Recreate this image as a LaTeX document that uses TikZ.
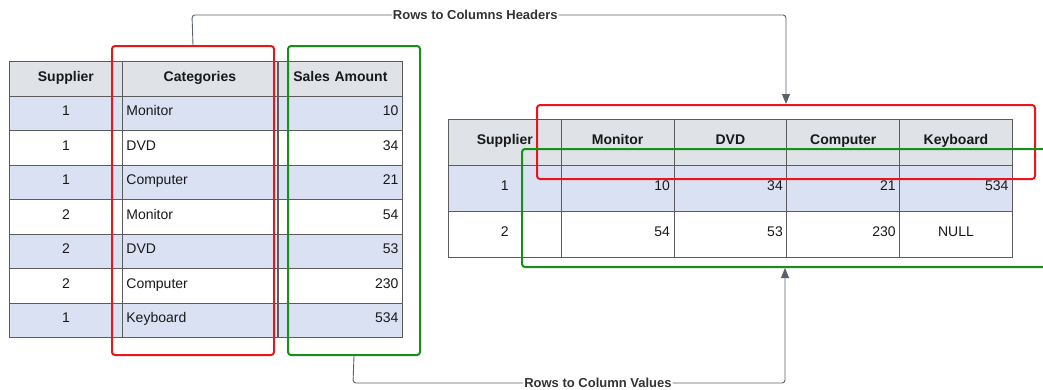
\documentclass[tikz,border=0pt]{standalone}
\usepackage{fontspec}
\setmainfont{Liberation Sans}
\usetikzlibrary{positioning,calc,arrows.meta}

\definecolor{hdrgray}{HTML}{DFE2E7}
\definecolor{rowblue}{HTML}{DAE1F2}
\definecolor{gridgray}{HTML}{5C5C5C}
\definecolor{boxred}{HTML}{E8161C}
\definecolor{boxgreen}{HTML}{15911B}
\definecolor{linkgray}{HTML}{5A616C}

\tikzset{
  cell/.style={draw=gridgray, line width=0.8pt, inner xsep=4pt, inner ysep=0pt,
    text height=10pt, text depth=5pt,
    anchor=north west, text=black!90, font=\fontsize{14}{16}\selectfont},
  hcell/.style={cell, fill=hdrgray, align=center, font=\bfseries\fontsize{14}{16}\selectfont},
  redbox/.style={draw=boxred, line width=2pt, rounded corners=3pt, inner sep=0pt, anchor=north west},
  greenbox/.style={draw=boxgreen, line width=2pt, rounded corners=3pt, inner sep=0pt, anchor=north west},
  link/.style={draw=linkgray, line width=0.9pt, rounded corners=3pt, -{Triangle[length=10pt, width=8pt]}},
  lbl/.style={fill=white, inner sep=1pt, text=black!80, font=\bfseries\fontsize{13}{15}\selectfont}
}

\begin{document}
\begin{tikzpicture}[x=1pt, y=-1pt]
    \clip (0,0) rectangle (1043,389);

    % Source table
    \node[hcell, minimum height=34.5pt, text width=105pt] (l-sup-0) at (9,61) {Supplier};
    \node[hcell, minimum height=34.5pt, text width=147pt] (l-cat-0) at (122,61) {Categories};
    \node[hcell, minimum height=34.5pt, text width=116pt] (l-amt-0) at (278,61) {Sales Amount};
    \foreach \sn/\cat/\amt/\fc [count=\i] in {1/Monitor/10/rowblue, 1/DVD/34/white,
        1/Computer/21/rowblue, 2/Monitor/54/white, 2/DVD/53/rowblue,
        2/Computer/230/white, 1/Keyboard/534/rowblue} {
      \node[cell, fill=\fc, minimum height=34.5pt, text width=105pt, align=center] (l-sup-\i) at (9,{61+34.5*\i}) {\sn};
      \node[cell, fill=\fc, minimum height=34.5pt, text width=147pt, align=left] (l-cat-\i) at (122,{61+34.5*\i}) {\cat};
      \node[cell, fill=\fc, minimum height=34.5pt, text width=116pt, align=right] (l-amt-\i) at (278,{61+34.5*\i}) {\amt};
    }

    % Pivoted table
    \foreach \head [count=\j from 0] in {Supplier, Monitor, DVD, Computer, Keyboard}
      \node[hcell, minimum height=46pt, text width=104.8pt] (r-\j-0) at ({448+112.8*\j},119) {\head};
    \node[cell, fill=rowblue, minimum height=46pt, text width=104.8pt, align=center] (r-0-1) at (448,165) {1};
    \node[cell, fill=white, minimum height=46pt, text width=104.8pt, align=center] (r-0-2) at (448,211) {2};
    \foreach \va/\vb [count=\j] in {10/54, 34/53, 21/230} {
      \node[cell, fill=rowblue, minimum height=46pt, text width=104.8pt, align=right] (r-\j-1) at ({448+112.8*\j},165) {\va};
      \node[cell, fill=white, minimum height=46pt, text width=104.8pt, align=right] (r-\j-2) at ({448+112.8*\j},211) {\vb};
    }
    \node[cell, fill=rowblue, minimum height=46pt, text width=104.8pt, align=right] (r-4-1) at (899.2,165) {534};
    \node[cell, fill=white, minimum height=46pt, text width=104.8pt, align=center] (r-4-2) at (899.2,211) {NULL};

    % Highlight boxes
    \node[redbox, minimum width=162pt, minimum height=309pt] (catbox) at (111,45) {};
    \node[greenbox, minimum width=132pt, minimum height=309pt] (amtbox) at (287,45) {};
    \node[redbox, minimum width=498pt, minimum height=74pt] (hdrbox) at (536,104) {};
    \node[greenbox, minimum width=560pt, minimum height=118pt] (valbox) at (521,148) {};

    % Connectors
    \coordinate (hbend) at (192,15);
    \coordinate (vbend) at (353,383);
    \coordinate (vtip) at ($(valbox.south west)+(264,0)$);
    \draw[link] (catbox.north) -- (hbend)
      -- node[lbl, pos=0.477] {Rows to Columns Headers} (hbend -| hdrbox.north) -- (hdrbox.north);
    \draw[link] (amtbox.south) -- (vbend)
      -- node[lbl, pos=0.567] {Rows to Column Values} (vbend -| vtip) -- (vtip);
\end{tikzpicture}
\end{document}
